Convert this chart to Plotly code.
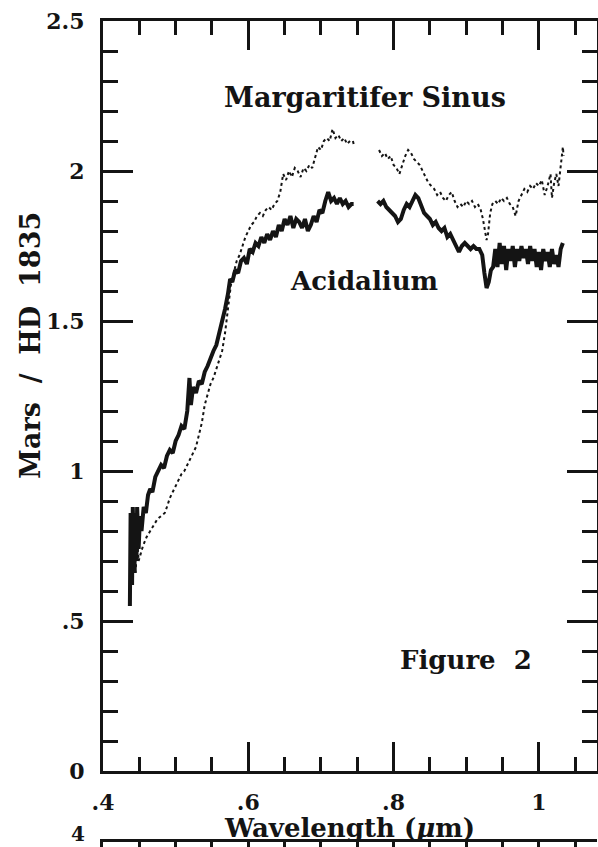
import plotly.graph_objects as go

# ---------------- data ----------------
acid_x = [0.437, 0.438, 0.440, 0.441, 0.443, 0.444, 0.446, 0.447, 0.449, 0.451, 0.453, 0.456, 0.459,
          0.462, 0.465, 0.468, 0.472, 0.476, 0.480, 0.484, 0.488, 0.492, 0.496, 0.500, 0.504, 0.508,
          0.512, 0.516, 0.519, 0.521, 0.524, 0.528, 0.532, 0.536, 0.540, 0.544, 0.548, 0.552, 0.556,
          0.560, 0.564, 0.568, 0.572, 0.575, 0.578, 0.582, 0.586, 0.590, 0.594, 0.598, 0.602, 0.606,
          0.610, 0.614, 0.618, 0.622, 0.626, 0.630, 0.634, 0.638, 0.642, 0.646, 0.650, 0.654, 0.658,
          0.662, 0.666, 0.670, 0.674, 0.678, 0.682, 0.686, 0.690, 0.694, 0.698, 0.702, 0.706, 0.710,
          0.714, 0.718, 0.722, 0.726, 0.730, 0.734, 0.738, 0.742, 0.745, None,
          0.778, 0.782, 0.786, 0.790, 0.794, 0.798, 0.802, 0.806, 0.810, 0.814, 0.818, 0.822, 0.826,
          0.830, 0.834, 0.838, 0.842, 0.846, 0.850, 0.854, 0.858, 0.862, 0.866, 0.870, 0.874, 0.878,
          0.882, 0.886, 0.890, 0.894, 0.898, 0.902, 0.906, 0.910, 0.914, 0.918, 0.922, 0.925, 0.928,
          0.931, 0.934, 0.937, 0.940, 0.943, 0.946, 0.949, 0.952, 0.955, 0.958, 0.961, 0.964, 0.967,
          0.970, 0.973, 0.976, 0.979, 0.982, 0.985, 0.988, 0.991, 0.994, 0.997, 1.000, 1.003, 1.006,
          1.009, 1.012, 1.015, 1.018, 1.021, 1.024, 1.027, 1.030, 1.033]
acid_y = [0.55, 0.86, 0.62, 0.88, 0.66, 0.86, 0.70, 0.88, 0.74, 0.85, 0.80, 0.88, 0.86,
          0.92, 0.94, 0.93, 0.98, 1.00, 1.02, 1.01, 1.05, 1.07, 1.06, 1.10, 1.12, 1.15,
          1.14, 1.20, 1.31, 1.22, 1.28, 1.26, 1.30, 1.29, 1.33, 1.35, 1.38, 1.40, 1.42,
          1.46, 1.49, 1.54, 1.59, 1.64, 1.63, 1.67, 1.66, 1.70, 1.71, 1.69, 1.74, 1.73,
          1.76, 1.75, 1.78, 1.76, 1.79, 1.77, 1.80, 1.78, 1.82, 1.80, 1.84, 1.82, 1.85,
          1.81, 1.84, 1.83, 1.81, 1.84, 1.80, 1.82, 1.85, 1.83, 1.87, 1.86, 1.90, 1.93,
          1.90, 1.91, 1.89, 1.91, 1.89, 1.90, 1.88, 1.89, 1.89, None,
          1.90, 1.89, 1.90, 1.88, 1.87, 1.86, 1.85, 1.83, 1.84, 1.87, 1.89, 1.88, 1.90,
          1.92, 1.91, 1.88, 1.86, 1.85, 1.84, 1.82, 1.83, 1.81, 1.80, 1.81, 1.78, 1.79,
          1.77, 1.75, 1.73, 1.75, 1.76, 1.75, 1.74, 1.75, 1.74, 1.74, 1.72, 1.66, 1.61,
          1.63, 1.67, 1.68, 1.74, 1.68, 1.76, 1.69, 1.75, 1.67, 1.74, 1.70, 1.75, 1.68,
          1.74, 1.70, 1.75, 1.71, 1.74, 1.69, 1.75, 1.70, 1.74, 1.68, 1.73, 1.67, 1.74,
          1.70, 1.73, 1.68, 1.74, 1.69, 1.72, 1.68, 1.74, 1.76]

marg_x = [0.437, 0.439, 0.441, 0.443, 0.445, 0.447, 0.449, 0.451, 0.455, 0.460, 0.465, 0.470, 0.475,
          0.480, 0.485, 0.488, 0.492, 0.496, 0.500, 0.504, 0.508, 0.512, 0.516, 0.520, 0.524, 0.528,
          0.532, 0.536, 0.540, 0.544, 0.548, 0.552, 0.556, 0.560, 0.564, 0.568, 0.572, 0.576, 0.580,
          0.584, 0.588, 0.592, 0.596, 0.600, 0.604, 0.608, 0.612, 0.616, 0.620, 0.624, 0.628, 0.632,
          0.636, 0.640, 0.644, 0.648, 0.652, 0.656, 0.660, 0.664, 0.668, 0.672, 0.676, 0.680, 0.684,
          0.688, 0.692, 0.696, 0.700, 0.704, 0.708, 0.712, 0.716, 0.720, 0.724, 0.728, 0.732, 0.736,
          0.740, 0.744, 0.746, None,
          0.780, 0.784, 0.788, 0.792, 0.796, 0.800, 0.804, 0.808, 0.812, 0.816, 0.820, 0.824, 0.828,
          0.832, 0.836, 0.840, 0.844, 0.848, 0.852, 0.856, 0.860, 0.864, 0.868, 0.872, 0.876, 0.880,
          0.884, 0.888, 0.892, 0.896, 0.900, 0.904, 0.908, 0.912, 0.916, 0.920, 0.923, 0.926, 0.928,
          0.930, 0.933, 0.936, 0.940, 0.944, 0.948, 0.952, 0.956, 0.960, 0.964, 0.968, 0.972, 0.976,
          0.980, 0.984, 0.988, 0.992, 0.996, 1.000, 1.004, 1.008, 1.012, 1.016, 1.018, 1.021, 1.024,
          1.027, 1.030, 1.033, 1.034]
marg_y = [0.60, 0.78, 0.62, 0.80, 0.66, 0.78, 0.70, 0.72, 0.75, 0.78, 0.80, 0.82, 0.84,
          0.85, 0.86, 0.88, 0.91, 0.93, 0.95, 0.97, 0.99, 1.00, 1.02, 1.04, 1.06, 1.08,
          1.12, 1.16, 1.22, 1.26, 1.29, 1.31, 1.34, 1.37, 1.40, 1.46, 1.54, 1.62, 1.66,
          1.70, 1.72, 1.75, 1.78, 1.80, 1.82, 1.83, 1.85, 1.86, 1.85, 1.87, 1.88, 1.87,
          1.89, 1.90, 1.93, 1.99, 1.97, 2.00, 1.98, 2.01, 2.00, 1.98, 2.01, 2.00, 2.02,
          2.01, 2.05, 2.08, 2.07, 2.10, 2.11, 2.10, 2.14, 2.11, 2.12, 2.10, 2.11, 2.09,
          2.10, 2.10, 2.08, None,
          2.07, 2.05, 2.06, 2.04, 2.05, 2.02, 2.01, 1.99, 2.02, 2.05, 2.07, 2.06, 2.04,
          2.03, 2.02, 2.00, 1.98, 1.96, 1.95, 1.94, 1.92, 1.93, 1.91, 1.90, 1.92, 1.93,
          1.90, 1.88, 1.89, 1.88, 1.90, 1.89, 1.90, 1.88, 1.89, 1.87, 1.84, 1.80, 1.77,
          1.79, 1.86, 1.89, 1.90, 1.89, 1.91, 1.90, 1.91, 1.89, 1.88, 1.85, 1.90, 1.92,
          1.94, 1.93, 1.95, 1.94, 1.96, 1.95, 1.97, 1.92, 1.95, 1.99, 1.91, 1.96, 1.99,
          1.95, 2.02, 2.08, 2.05]

x_tickvals = [0.4, 0.6, 0.8, 1.0]
x_ticktext = ["<b>.4</b>", "<b>.6</b>", "<b>.8</b>", "<b>1</b>"]
y_tickvals = [0, 0.5, 1, 1.5, 2, 2.5]
y_ticktext = ["<b>0</b>", "<b>.5</b>", "<b>1</b>", "<b>1.5</b>", "<b>2</b>", "<b>2.5</b>"]
lower_panel_top_label = "<b>4</b>"

FONT = "DejaVu Serif"
INK = "#141414"

fig = go.Figure()
fig.add_trace(go.Scatter(x=marg_x, y=marg_y, mode="lines", connectgaps=False,
                         line=dict(color=INK, width=2, dash="dot"), showlegend=False))
fig.add_trace(go.Scatter(x=acid_x, y=acid_y, mode="lines", connectgaps=False,
                         line=dict(color=INK, width=4), showlegend=False))
# lower (cut-off) panel, only its top edge is visible
fig.add_trace(go.Scatter(x=[0.5], y=[1], mode="lines", xaxis="x2", yaxis="y2",
                         line=dict(color="rgba(0,0,0,0)"), showlegend=False, hoverinfo="skip"))

tickfont = dict(family=FONT, size=22, color=INK)
minor_x = dict(ticks="inside", ticklen=14, tickwidth=2.5, tickcolor=INK, dtick=0.05,
               tick0=0.4, showgrid=False)

fig.update_layout(
    width=598, height=847,
    margin=dict(l=103, r=1, t=21, b=0, autoexpand=False),
    paper_bgcolor="white", plot_bgcolor="white", showlegend=False,
    xaxis=dict(range=[0.4, 1.08], anchor="y", showline=True, linewidth=3, linecolor=INK,
               mirror="allticks", ticks="inside", ticklen=29, tickwidth=2.5, tickcolor=INK,
               tickvals=x_tickvals, ticktext=x_ticktext, minor=minor_x,
               showgrid=False, zeroline=False, tickfont=tickfont, ticklabelstandoff=10,
               automargin=False),
    yaxis=dict(range=[0, 2.5], domain=[0.0920, 1.0], showline=True, linewidth=3, linecolor=INK,
               mirror="allticks", ticks="inside", ticklen=30, tickwidth=2.5, tickcolor=INK,
               tickvals=y_tickvals, ticktext=y_ticktext,
               minor=dict(ticks="inside", ticklen=15, tickwidth=2.5, tickcolor=INK, dtick=0.1,
                          tick0=0, showgrid=False),
               showgrid=False, zeroline=False, tickfont=tickfont, ticklabelstandoff=11,
               automargin=False),
    xaxis2=dict(range=[0.4, 1.08], anchor="y2", side="top", showline=True, linewidth=3,
                linecolor=INK, ticks="inside", ticklen=14, tickwidth=2.5, tickcolor=INK,
                tickvals=x_tickvals, showticklabels=False, minor=minor_x,
                showgrid=False, zeroline=False, automargin=False),
    yaxis2=dict(range=[0, 4], domain=[0.0, 0.00605], showline=True, linewidth=3, linecolor=INK,
                ticks="", showticklabels=False,
                showgrid=False, zeroline=False, automargin=False),
)

afont = dict(family=FONT, size=26, color=INK)
fig.add_annotation(x=0.760, y=2.245, xref="x", yref="y", text="<b>Margaritifer Sinus</b>",
                   showarrow=False, font=dict(family=FONT, size=27, color=INK))
fig.add_annotation(x=0.759, y=1.633, xref="x", yref="y", text="<b>Acidalium</b>",
                   showarrow=False, font=afont)
fig.add_annotation(x=0.90, y=0.37, xref="x", yref="y", text="<b>Figure  2</b>",
                   showarrow=False, font=afont)
fig.add_annotation(x=0.4991, y=0.023, xref="paper", yref="paper", xanchor="center",
                   yanchor="middle", text="<b>Wavelength (<i>μ</i>m)</b>", showarrow=False,
                   font=afont)
fig.add_annotation(x=-0.1457, y=1.417, xref="paper", yref="y", xanchor="center",
                   yanchor="middle", text="<b>Mars  /  HD  1835</b>",
                   textangle=-90, showarrow=False, font=dict(family=FONT, size=27, color=INK))
fig.add_annotation(x=-0.0506, y=0.0, xref="paper", yref="paper", xanchor="center",
                   yanchor="bottom", yshift=0, text=lower_panel_top_label, showarrow=False,
                   font=dict(family=FONT, size=20, color=INK), borderpad=0)

fig.write_html("out.html", config={"displayModeBar": False},
               post_script="document.body.style.margin='0';document.body.style.overflow='hidden';")
